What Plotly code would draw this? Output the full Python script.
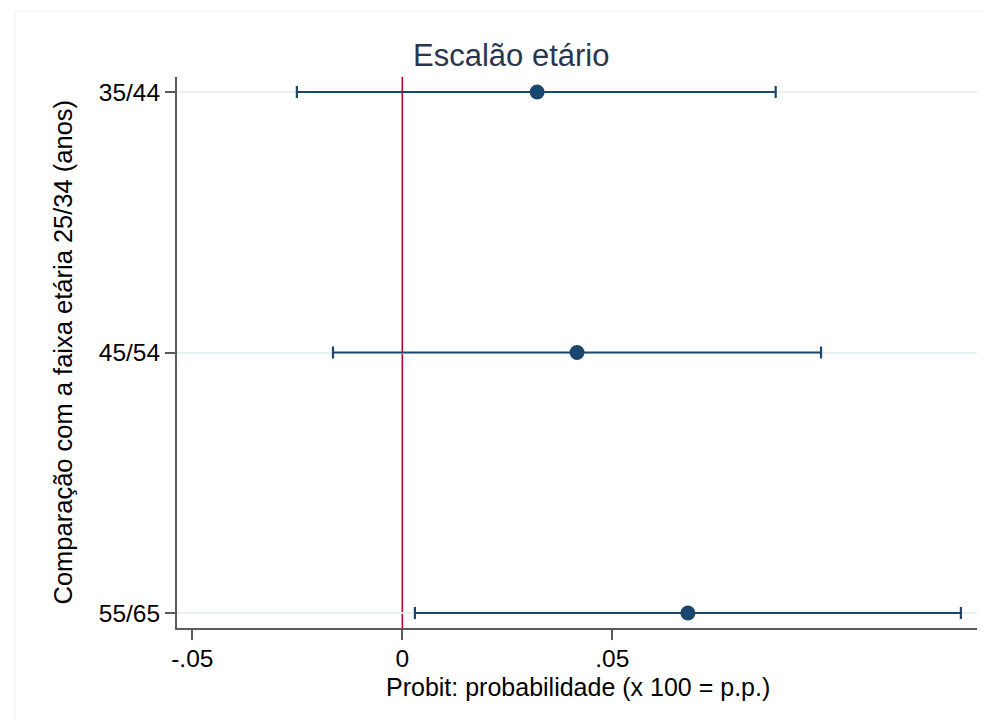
import plotly.graph_objects as go

categories = ["35/44", "45/54", "55/65"]
estimates = [0.0321, 0.0416, 0.0680]
ci_lower = [-0.0251, -0.0165, 0.0030]
ci_upper = [0.0889, 0.0997, 0.1330]
x_tickvals = [-0.05, 0, 0.05]
x_ticktext = ["-.05", "0", ".05"]

NAVY = "#1a476f"
FONT = "Liberation Sans, Arial, sans-serif"

fig = go.Figure()
fig.add_trace(go.Scatter(
    x=estimates, y=categories, mode="markers",
    marker=dict(color=NAVY, size=15, line=dict(width=0)),
    error_x=dict(type="data", symmetric=False,
                 array=[u - e for u, e in zip(ci_upper, estimates)],
                 arrayminus=[e - l for e, l in zip(estimates, ci_lower)],
                 color=NAVY, thickness=2.2, width=6),
    showlegend=False,
))

L, R, T, B = 177, 7, 77, 92
W, H = 984, 720
pw, ph = W - L - R, H - T - B

fig.add_shape(type="line", xref="x", yref="y domain", x0=0, x1=0, y0=0, y1=1,
              line=dict(color="#c10534", width=1.6), layer="below")

# faint outer frame
fig.add_shape(type="rect", xref="paper", yref="paper",
              x0=(15 - L) / pw, x1=1.2, y0=(H - B - 11) / ph, y1=-0.5,
              line=dict(color="#eeeeee", width=1), layer="below")

fig.update_layout(
    width=W, height=H,
    margin=dict(l=L, r=R, t=T, b=B),
    paper_bgcolor="white", plot_bgcolor="white",
    font=dict(family=FONT, size=24.5, color="black"),
    xaxis=dict(range=[(0 - (402.3 - L)) / 4200, (W - R - 402.3) / 4200],
               tickvals=x_tickvals, ticktext=x_ticktext,
               showgrid=False, zeroline=False,
               showline=True, linecolor="#5a5a5a", linewidth=2,
               ticks="outside", ticklen=10, tickwidth=2, tickcolor="#5a5a5a",
               ticklabelstandoff=-2,
               tickfont=dict(size=24.5, color="black")),
    yaxis=dict(type="category", categoryorder="array", categoryarray=categories,
               range=[2.0576, -0.0576],
               showgrid=True, gridcolor="#e8f0f2", gridwidth=1.5,
               zeroline=False,
               showline=True, linecolor="#5a5a5a", linewidth=2,
               ticks="outside", ticklen=10, tickwidth=2, tickcolor="#5a5a5a",
               tickfont=dict(size=24.5, color="black")),
)

fig.add_annotation(text="Escalão etário", xref="paper", yref="paper",
                   x=(511 - L) / pw, y=(H - B - 55) / ph, xanchor="center", yanchor="middle",
                   showarrow=False, font=dict(size=31, color="#2a3550", family=FONT))
fig.add_annotation(text="Probit: probabilidade (x 100 = p.p.)", xref="paper", yref="paper",
                   x=(578 - L) / pw, y=(H - B - 687) / ph, xanchor="center", yanchor="middle",
                   showarrow=False, font=dict(size=25, color="black", family=FONT))
fig.add_annotation(text="Comparação com a faixa etária 25/34 (anos)", xref="paper", yref="paper",
                   x=(62 - L) / pw, y=0.5, xanchor="center", yanchor="middle", textangle=-90,
                   showarrow=False, font=dict(size=25.5, color="black", family=FONT))

fig.write_html("out.html")
